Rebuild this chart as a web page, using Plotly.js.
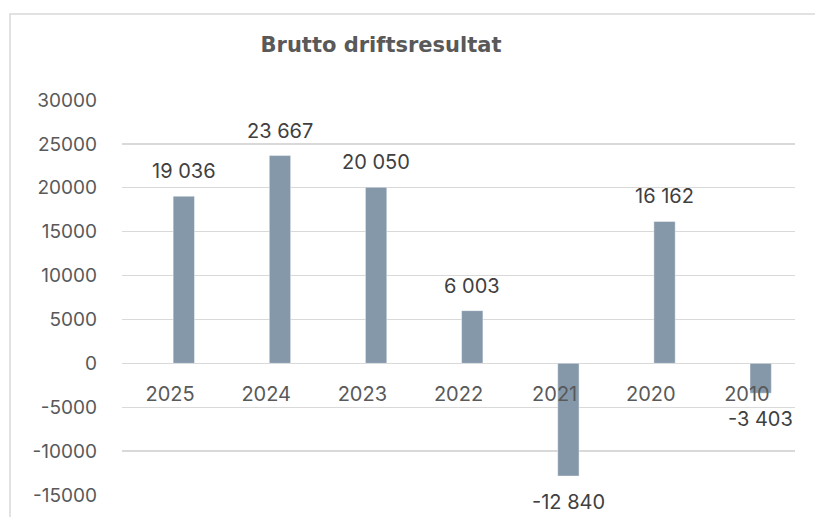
<!DOCTYPE html>
<html>
<head>
<meta charset="utf-8">
<script src="https://cdn.plot.ly/plotly-3.0.1.min.js"></script>
<style>html,body{margin:0;padding:0;background:#fff;}#chart{width:815px;height:517px;}</style>
</head>
<body>
<div id="chart"></div>
<script>
const categories = ['2025', '2024', '2023', '2022', '2021', '2020', '2010'];
const values = [19036, 23667, 20050, 6003, -12840, 16162, -3403];
const yTickVals = [-15000, -10000, -5000, 0, 5000, 10000, 15000, 20000, 25000, 30000];
const yTickText = ['-15000', '-10000', '-5000', '0', '5000', '10000', '15000', '20000', '25000', '30000'];
const chartTitle = 'Brutto driftsresultat';

const FONT = 'Inter, "Liberation Sans", Arial, sans-serif';
const TITLE_FONT = '"DejaVu Sans", "Liberation Sans", Arial, sans-serif';

const BAR_WIDTH = 0.222;
const BAR_OFFSET = 0.032;

function fmt(v) {
  const s = String(Math.abs(v)).replace(/\B(?=(\d{3})+(?!\d))/g, ' ');
  return (v < 0 ? '-' : '') + s;
}

const trace = {
  type: 'bar',
  x: categories,
  y: values,
  width: BAR_WIDTH,
  offset: BAR_OFFSET,
  marker: { color: '#8598AA', line: { color: 'rgba(255,255,255,0.7)', width: 0.6 } },
  hoverinfo: 'skip'
};

const annotations = categories.map((c, i) => ({
  x: i + BAR_OFFSET + BAR_WIDTH / 2, y: values[i], xref: 'x', yref: 'y',
  text: fmt(values[i]), showarrow: false,
  yanchor: 'middle', yshift: values[i] >= 0 ? 25 : -26,
  font: { family: FONT, size: 20, color: '#404040' }
}));

const layout = {
  width: 815, height: 517,
  margin: { l: 122, r: 20, t: 100, b: 22 },
  paper_bgcolor: '#ffffff', plot_bgcolor: '#ffffff',
  showlegend: false,
  title: {
    text: '<b>' + chartTitle + '</b>',
    font: { family: TITLE_FONT, size: 21, color: '#595959' },
    xref: 'container', x: 381 / 815, xanchor: 'center',
    yref: 'container', y: 1 - 45 / 517, yanchor: 'middle'
  },
  xaxis: {
    type: 'category',
    range: [-0.5, categories.length - 0.5], autorange: false,
    anchor: 'free', position: 1 / 3,
    showgrid: false, showline: false, zeroline: false,
    ticks: '', ticklabelstandoff: 17,
    tickfont: { family: FONT, size: 20, color: '#595959' }
  },
  yaxis: {
    range: [-15000, 30000], autorange: false,
    tickmode: 'array', tickvals: yTickVals, ticktext: yTickText,
    showgrid: true, gridcolor: '#d9d9d9', gridwidth: 1.3,
    zeroline: true, zerolinecolor: '#d9d9d9', zerolinewidth: 1.3,
    showline: false, ticks: '', ticklabelstandoff: 24,
    tickfont: { family: FONT, size: 19, color: '#595959' }
  },
  annotations: annotations,
  shapes: [{
    type: 'rect', xref: 'paper', yref: 'paper',
    x0: (10 - 122) / 673, x1: (840 - 122) / 673,
    y0: -0.2, y1: 1 + 86 / 395,
    line: { color: '#d9d9d9', width: 1.5 }, fillcolor: 'rgba(0,0,0,0)', layer: 'below'
  }]
};

Plotly.newPlot('chart', [trace], layout, { displayModeBar: false, staticPlot: true });
</script>
</body>
</html>
